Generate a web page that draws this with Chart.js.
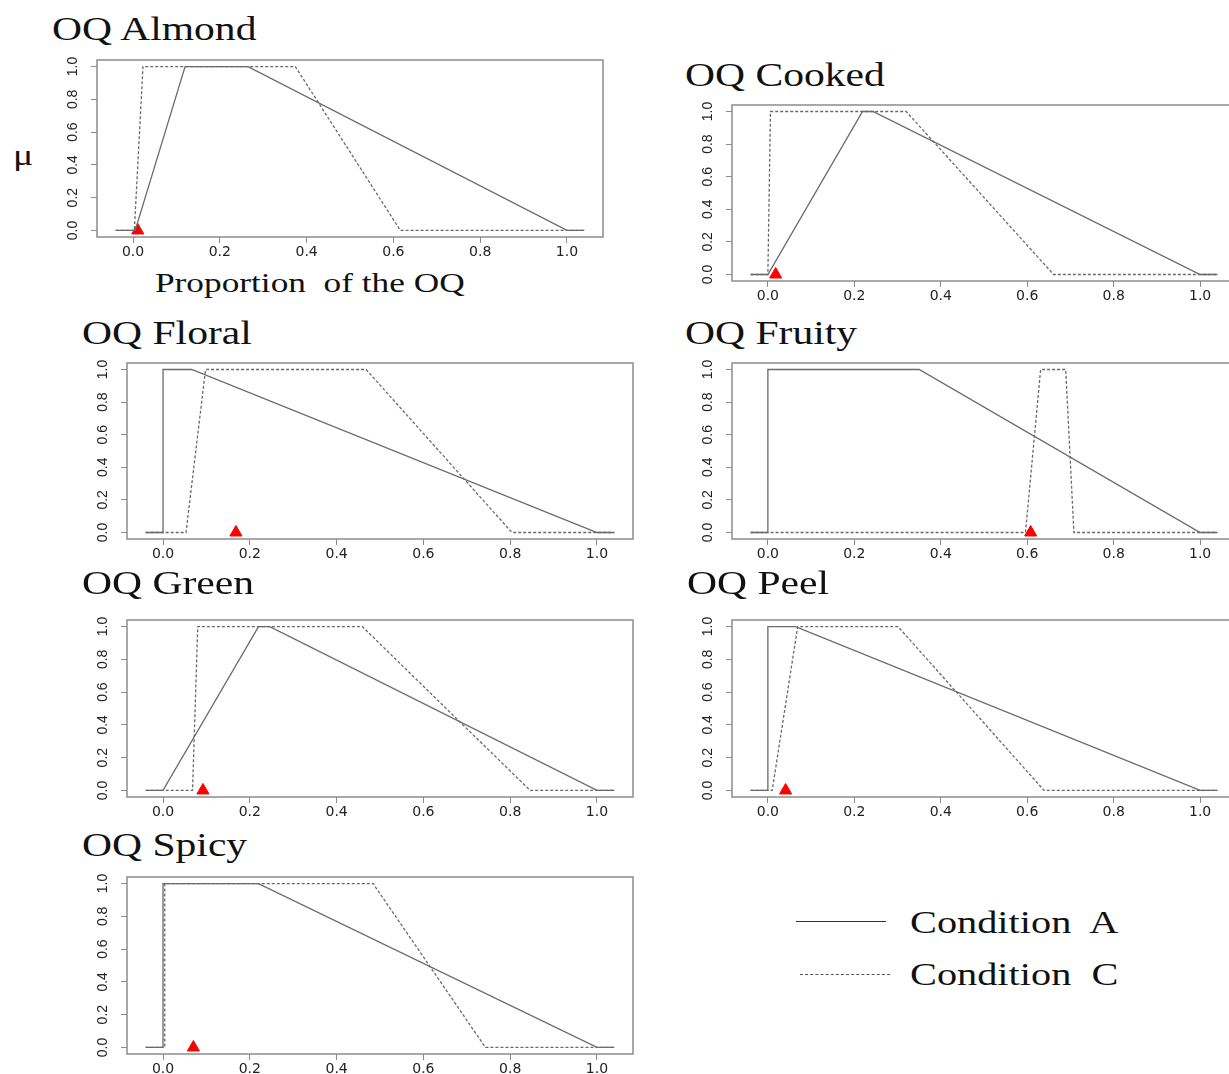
<!DOCTYPE html>
<html>
<head>
<meta charset="utf-8">
<script src="https://cdn.jsdelivr.net/npm/chart.js@4.4.1/dist/chart.umd.min.js"></script>
<style>
  html, body { margin: 0; padding: 0; background: #fff; }
  body { width: 1229px; height: 1074px; position: relative; overflow: hidden; }
  canvas { position: absolute; }
  .txt {
    position: absolute; white-space: pre; line-height: 1; color: #111;
    font-family: "Liberation Serif", "Times New Roman", serif;
    transform: scaleX(1.26); transform-origin: 0 0;
  }
  .key { position: absolute; height: 0; }
</style>
</head>
<body>
<script>
// membership curves: x breakpoints for each condition, mu at those breakpoints
const muShape = [0, 0, 1, 1, 0, 0];

const almondA = [-0.04, 0.005, 0.12, 0.265, 1.0, 1.04];
const almondC = [-0.04, 0.003, 0.023, 0.374, 0.616, 1.04];
const cookedA = [-0.04, 0.0, 0.219, 0.243, 1.0, 1.04];
const cookedC = [-0.04, 0.0, 0.006, 0.32, 0.661, 1.04];
const floralA = [-0.04, 0.0, 0.0, 0.066, 1.0, 1.04];
const floralC = [-0.04, 0.053, 0.098, 0.468, 0.804, 1.04];
const fruityA = [-0.04, 0.0, 0.0, 0.35, 1.0, 1.04];
const fruityC = [-0.04, 0.596, 0.631, 0.689, 0.708, 1.04];
const greenA  = [-0.04, 0.0, 0.22, 0.246, 1.0, 1.04];
const greenC  = [-0.04, 0.068, 0.08, 0.459, 0.846, 1.04];
const peelA   = [-0.04, 0.0, 0.0, 0.064, 1.0, 1.04];
const peelC   = [-0.04, 0.01, 0.069, 0.301, 0.639, 1.04];
const spicyA  = [-0.04, 0.0, 0.0, 0.22, 1.0, 1.04];
const spicyC  = [-0.04, 0.004, 0.004, 0.484, 0.743, 1.04];

// observed proportion (red triangle) per attribute
const observed = [0.011, 0.018, 0.168, 0.608, 0.092, 0.041, 0.07];

const titles = ['OQ Almond', 'OQ Cooked', 'OQ Floral', 'OQ Fruity', 'OQ Green', 'OQ Peel', 'OQ Spicy'];
const seriesA = [almondA, cookedA, floralA, fruityA, greenA, peelA, spicyA];
const seriesC = [almondC, cookedC, floralC, fruityC, greenC, peelC, spicyC];

const xTicks = [0, 0.2, 0.4, 0.6, 0.8, 1.0];
const yTicks = [0, 0.2, 0.4, 0.6, 0.8, 1.0];

// layout: plot box [left, top, right, bottom] and title position per panel
const boxes = [
  [97, 60, 603, 237], [732, 105, 1236, 281],
  [127, 363, 633, 539], [732, 363, 1236, 539],
  [127, 620, 633, 797], [732, 620, 1236, 797],
  [127, 877, 633, 1054]
];
const titlePos = [[52, 13], [685, 59], [82, 317], [685, 317], [82, 567], [687, 567], [82, 829]];

const YW = 46, XH = 30, PT = 4, PR = 4;
const LINE = '#6a6a6a';

const boxPlugin = {
  id: 'box',
  afterDatasetsDraw(chart) {
    const { ctx, chartArea: a } = chart;
    ctx.save();
    ctx.strokeStyle = '#8c8c8c';
    ctx.lineWidth = 1.5;
    ctx.strokeRect(a.left, a.top, a.right - a.left, a.bottom - a.top);
    ctx.restore();
  }
};

function addText(str, left, top, size) {
  const d = document.createElement('div');
  d.className = 'txt';
  d.textContent = str;
  d.style.left = left + 'px';
  d.style.top = top + 'px';
  d.style.fontSize = size + 'px';
  document.body.appendChild(d);
}

function pts(xs) {
  return xs.map((x, i) => ({ x, y: muShape[i] }));
}

titles.forEach((t, i) => {
  const [l, tp, r, b] = boxes[i];
  const cv = document.createElement('canvas');
  const w = YW + (r - l) + PR, h = PT + (b - tp) + XH;
  cv.width = w; cv.height = h;
  cv.style.left = (l - YW) + 'px';
  cv.style.top = (tp - PT) + 'px';
  cv.style.width = w + 'px'; cv.style.height = h + 'px';
  document.body.appendChild(cv);

  new Chart(cv.getContext('2d'), {
    type: 'line',
    data: {
      datasets: [
        { label: 'Condition A', data: pts(seriesA[i]), borderColor: LINE, borderWidth: 1.3,
          pointRadius: 0, tension: 0, fill: false },
        { label: 'Condition C', data: pts(seriesC[i]), borderColor: LINE, borderWidth: 1.3,
          borderDash: [3, 2], pointRadius: 0, tension: 0, fill: false },
        { type: 'scatter', label: 'obs', data: [{ x: observed[i], y: 0 }], pointStyle: 'triangle',
          pointRadius: 7, backgroundColor: '#ff0000', borderColor: '#ff0000', borderWidth: 1, clip: false }
      ]
    },
    options: {
      responsive: false,
      animation: false,
      events: [],
      layout: { padding: { top: PT, right: PR, left: 0, bottom: 0 }, autoPadding: false },
      plugins: { legend: { display: false }, tooltip: { enabled: false } },
      scales: {
        x: {
          type: 'linear', min: -0.083, max: 1.083,
          afterBuildTicks: s => { s.ticks = xTicks.map(v => ({ value: v })); },
          afterFit: s => { s.height = XH; s.paddingLeft = 0; s.paddingRight = 0; },
          grid: { drawOnChartArea: false, drawTicks: true, tickLength: 6, color: '#8c8c8c' },
          border: { display: false },
          ticks: { font: { family: '"DejaVu Sans", sans-serif', size: 14 }, color: '#222', padding: 1,
                   maxRotation: 0, autoSkip: false, callback: v => v.toFixed(1) }
        },
        y: {
          type: 'linear', min: -0.04, max: 1.04,
          afterBuildTicks: s => { s.ticks = yTicks.map(v => ({ value: v })); },
          afterFit: s => { s.width = YW; s.paddingTop = 0; s.paddingBottom = 0; },
          grid: { drawOnChartArea: false, drawTicks: true, tickLength: 6, color: '#8c8c8c' },
          border: { display: false },
          ticks: { font: { family: '"Liberation Sans", Arial, sans-serif', size: 14 }, color: '#222',
                   padding: 8, minRotation: 90, maxRotation: 90, crossAlign: 'center',
                   autoSkip: false, callback: v => v.toFixed(1) }
        }
      }
    },
    plugins: [boxPlugin]
  });

  addText(t, titlePos[i][0], titlePos[i][1], 33);
});

// axis labels on the first panel
addText('Proportion  of the OQ', 155, 269, 28);
addText('μ', 13, 140, 30);

// legend
function addKey(left, top, width, style) {
  const k = document.createElement('div');
  k.className = 'key';
  k.style.left = left + 'px';
  k.style.top = top + 'px';
  k.style.width = width + 'px';
  k.style.borderTop = style;
  document.body.appendChild(k);
}
addKey(796, 921, 90, '1.5px solid #333');
addKey(800, 974, 90, '1.5px dashed #555');
addText('Condition  A', 910, 906, 32);
addText('Condition  C', 910, 958, 32);
</script>
</body>
</html>
